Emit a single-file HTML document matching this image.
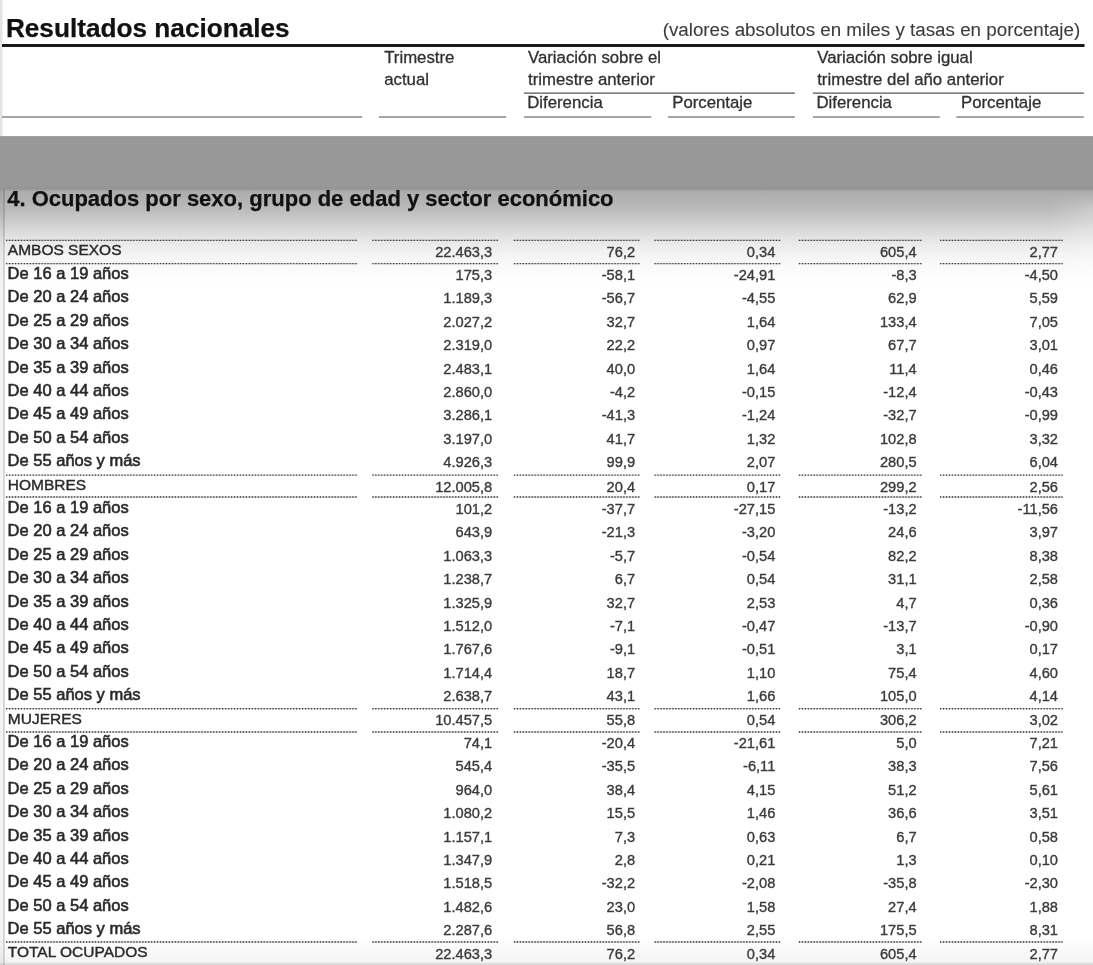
<!DOCTYPE html>
<html><head><meta charset="utf-8"><title>Resultados nacionales</title>
<style>
html,body{margin:0;padding:0;background:#fff;}
body{width:1093px;height:965px;position:relative;overflow:hidden;font-family:"Liberation Sans",sans-serif;}
.t{position:absolute;white-space:nowrap;-webkit-text-stroke:0.6px currentColor;}
.h{-webkit-text-stroke:0.3px currentColor;}
.c{-webkit-text-stroke:0.4px currentColor;}
.n{-webkit-text-stroke:0.35px currentColor;}
.v{-webkit-text-stroke:0.1px currentColor;}
.b{-webkit-text-stroke:0.25px currentColor;}
#lines{position:absolute;left:0;top:0;}
#txt{position:absolute;left:0;top:0;width:1093px;height:965px;will-change:transform;filter:blur(0.35px);}
.d{position:absolute;height:1px;background:repeating-linear-gradient(90deg,#666 0,#666 1px,#ccc 1px,#ccc 2px);}
#band{position:absolute;left:0;top:136px;width:1093px;height:150px;background:linear-gradient(180deg,#a6a6a6 0.0px,#989898 1.2px,#989898 49.5px,#949494 52.0px,#979797 53.3px,#acacac 55.2px,#b3b3b3 65.0px,#bcbcbc 74.0px,#cacaca 84.0px,#d9d9d9 94.0px,#e6e6e6 104.0px,#f0f0f0 114.0px,#f7f7f7 124.0px,#fbfbfb 134.0px,#ffffff 148.0px);}
#bfade{position:absolute;left:0;top:938px;width:1093px;height:27px;background:linear-gradient(180deg,rgba(0,0,0,0) 0,rgba(0,0,0,.02) 10px,rgba(0,0,0,.045) 24px,rgba(0,0,0,.045) 27px);}
#rfade{position:absolute;left:1048px;top:191px;width:45px;height:90px;background:linear-gradient(90deg,rgba(255,255,255,0),rgba(255,255,255,.22));-webkit-mask-image:linear-gradient(180deg,transparent 0,#000 18px);mask-image:linear-gradient(180deg,transparent 0,#000 18px);}
</style></head><body>
<div id="band"></div>
<div id="rfade"></div>
<div id="bfade"></div>
<svg id="lines" width="1093" height="965" viewBox="0 0 1093 965"><rect x="0" y="0" width="2.5" height="136" fill="#e3e3e3"/><rect x="0" y="190" width="2.4" height="776" fill="#000" fill-opacity="0.045"/><rect x="2.9" y="190" width="1.9" height="776" fill="#000" fill-opacity="0.17"/><rect x="0" y="962.4" width="1093" height="1.2" fill="#000" fill-opacity="0.05"/><rect x="0" y="963.6" width="1093" height="1.4" fill="#000" fill-opacity="0.11"/><rect x="2.00" y="44.00" width="1082.50" height="3" fill="#1a1a1a"/>
<rect x="524.00" y="92.60" width="270.80" height="1" fill="#2a2a2a"/>
<rect x="812.90" y="92.60" width="270.90" height="1" fill="#2a2a2a"/>
<rect x="2.00" y="116.00" width="360.20" height="2" fill="#a6a6a6"/>
<rect x="378.90" y="116.00" width="127.30" height="2" fill="#a6a6a6"/>
<rect x="524.10" y="116.00" width="127.10" height="2" fill="#a6a6a6"/>
<rect x="667.90" y="116.00" width="126.90" height="2" fill="#a6a6a6"/>
<rect x="812.90" y="116.00" width="126.90" height="2" fill="#a6a6a6"/>
<rect x="956.40" y="116.00" width="127.40" height="2" fill="#a6a6a6"/><g stroke="#000" stroke-opacity="0.2" stroke-width="1.3" fill="none"><line x1="6.00" y1="240.30" x2="357.60" y2="240.30"/>
<line x1="6.00" y1="263.55" x2="357.60" y2="263.55"/>
<line x1="372.30" y1="240.30" x2="498.30" y2="240.30"/>
<line x1="372.30" y1="263.55" x2="498.30" y2="263.55"/>
<line x1="513.80" y1="240.30" x2="639.70" y2="240.30"/>
<line x1="513.80" y1="263.55" x2="639.70" y2="263.55"/>
<line x1="654.50" y1="240.30" x2="780.60" y2="240.30"/>
<line x1="654.50" y1="263.55" x2="780.60" y2="263.55"/>
<line x1="798.80" y1="240.30" x2="921.80" y2="240.30"/>
<line x1="798.80" y1="263.55" x2="921.80" y2="263.55"/>
<line x1="940.00" y1="240.30" x2="1062.60" y2="240.30"/>
<line x1="940.00" y1="263.55" x2="1062.60" y2="263.55"/>
<line x1="6.00" y1="475.05" x2="357.60" y2="475.05"/>
<line x1="6.00" y1="497.00" x2="357.60" y2="497.00"/>
<line x1="372.30" y1="475.05" x2="498.30" y2="475.05"/>
<line x1="372.30" y1="497.00" x2="498.30" y2="497.00"/>
<line x1="513.80" y1="475.05" x2="639.70" y2="475.05"/>
<line x1="513.80" y1="497.00" x2="639.70" y2="497.00"/>
<line x1="654.50" y1="475.05" x2="780.60" y2="475.05"/>
<line x1="654.50" y1="497.00" x2="780.60" y2="497.00"/>
<line x1="798.80" y1="475.05" x2="921.80" y2="475.05"/>
<line x1="798.80" y1="497.00" x2="921.80" y2="497.00"/>
<line x1="940.00" y1="475.05" x2="1062.60" y2="475.05"/>
<line x1="940.00" y1="497.00" x2="1062.60" y2="497.00"/>
<line x1="6.00" y1="708.70" x2="357.60" y2="708.70"/>
<line x1="6.00" y1="732.00" x2="357.60" y2="732.00"/>
<line x1="372.30" y1="708.70" x2="498.30" y2="708.70"/>
<line x1="372.30" y1="732.00" x2="498.30" y2="732.00"/>
<line x1="513.80" y1="708.70" x2="639.70" y2="708.70"/>
<line x1="513.80" y1="732.00" x2="639.70" y2="732.00"/>
<line x1="654.50" y1="708.70" x2="780.60" y2="708.70"/>
<line x1="654.50" y1="732.00" x2="780.60" y2="732.00"/>
<line x1="798.80" y1="708.70" x2="921.80" y2="708.70"/>
<line x1="798.80" y1="732.00" x2="921.80" y2="732.00"/>
<line x1="940.00" y1="708.70" x2="1062.60" y2="708.70"/>
<line x1="940.00" y1="732.00" x2="1062.60" y2="732.00"/>
<line x1="6.00" y1="942.00" x2="357.60" y2="942.00"/>
<line x1="372.30" y1="942.00" x2="498.30" y2="942.00"/>
<line x1="513.80" y1="942.00" x2="639.70" y2="942.00"/>
<line x1="654.50" y1="942.00" x2="780.60" y2="942.00"/>
<line x1="798.80" y1="942.00" x2="921.80" y2="942.00"/>
<line x1="940.00" y1="942.00" x2="1062.60" y2="942.00"/></g><g stroke="#3c3c3c" stroke-width="1.35" stroke-dasharray="1.25 1.71" fill="none"><line x1="6.00" y1="240.30" x2="357.60" y2="240.30"/>
<line x1="6.00" y1="263.55" x2="357.60" y2="263.55"/>
<line x1="372.30" y1="240.30" x2="498.30" y2="240.30"/>
<line x1="372.30" y1="263.55" x2="498.30" y2="263.55"/>
<line x1="513.80" y1="240.30" x2="639.70" y2="240.30"/>
<line x1="513.80" y1="263.55" x2="639.70" y2="263.55"/>
<line x1="654.50" y1="240.30" x2="780.60" y2="240.30"/>
<line x1="654.50" y1="263.55" x2="780.60" y2="263.55"/>
<line x1="798.80" y1="240.30" x2="921.80" y2="240.30"/>
<line x1="798.80" y1="263.55" x2="921.80" y2="263.55"/>
<line x1="940.00" y1="240.30" x2="1062.60" y2="240.30"/>
<line x1="940.00" y1="263.55" x2="1062.60" y2="263.55"/>
<line x1="6.00" y1="475.05" x2="357.60" y2="475.05"/>
<line x1="6.00" y1="497.00" x2="357.60" y2="497.00"/>
<line x1="372.30" y1="475.05" x2="498.30" y2="475.05"/>
<line x1="372.30" y1="497.00" x2="498.30" y2="497.00"/>
<line x1="513.80" y1="475.05" x2="639.70" y2="475.05"/>
<line x1="513.80" y1="497.00" x2="639.70" y2="497.00"/>
<line x1="654.50" y1="475.05" x2="780.60" y2="475.05"/>
<line x1="654.50" y1="497.00" x2="780.60" y2="497.00"/>
<line x1="798.80" y1="475.05" x2="921.80" y2="475.05"/>
<line x1="798.80" y1="497.00" x2="921.80" y2="497.00"/>
<line x1="940.00" y1="475.05" x2="1062.60" y2="475.05"/>
<line x1="940.00" y1="497.00" x2="1062.60" y2="497.00"/>
<line x1="6.00" y1="708.70" x2="357.60" y2="708.70"/>
<line x1="6.00" y1="732.00" x2="357.60" y2="732.00"/>
<line x1="372.30" y1="708.70" x2="498.30" y2="708.70"/>
<line x1="372.30" y1="732.00" x2="498.30" y2="732.00"/>
<line x1="513.80" y1="708.70" x2="639.70" y2="708.70"/>
<line x1="513.80" y1="732.00" x2="639.70" y2="732.00"/>
<line x1="654.50" y1="708.70" x2="780.60" y2="708.70"/>
<line x1="654.50" y1="732.00" x2="780.60" y2="732.00"/>
<line x1="798.80" y1="708.70" x2="921.80" y2="708.70"/>
<line x1="798.80" y1="732.00" x2="921.80" y2="732.00"/>
<line x1="940.00" y1="708.70" x2="1062.60" y2="708.70"/>
<line x1="940.00" y1="732.00" x2="1062.60" y2="732.00"/>
<line x1="6.00" y1="942.00" x2="357.60" y2="942.00"/>
<line x1="372.30" y1="942.00" x2="498.30" y2="942.00"/>
<line x1="513.80" y1="942.00" x2="639.70" y2="942.00"/>
<line x1="654.50" y1="942.00" x2="780.60" y2="942.00"/>
<line x1="798.80" y1="942.00" x2="921.80" y2="942.00"/>
<line x1="940.00" y1="942.00" x2="1062.60" y2="942.00"/></g></svg>
<div id="txt">
<div class="t b" style="top:18px;font-size:26.2px;line-height:20px;left:5.90px;color:#111;font-weight:bold;">Resultados nacionales</div>
<div class="t v" style="top:20px;font-size:18.8px;line-height:20px;right:12.80px;color:#3c3c3c;">(valores absolutos en miles y tasas en porcentaje)</div>
<div class="t h" style="top:48px;font-size:16.8px;line-height:20px;left:384.20px;color:#303030;">Trimestre</div>
<div class="t h" style="top:70px;font-size:16.8px;line-height:20px;left:384.20px;color:#303030;">actual</div>
<div class="t h" style="top:48px;font-size:16.8px;line-height:20px;left:528.00px;color:#303030;">Variación sobre el</div>
<div class="t h" style="top:70px;font-size:16.8px;line-height:20px;left:528.00px;color:#303030;">trimestre anterior</div>
<div class="t h" style="top:48px;font-size:16.8px;line-height:20px;left:817.20px;color:#303030;">Variación sobre igual</div>
<div class="t h" style="top:70px;font-size:16.8px;line-height:20px;left:817.20px;color:#303030;">trimestre del año anterior</div>
<div class="t h" style="top:93px;font-size:16.8px;line-height:20px;left:527.20px;color:#303030;">Diferencia</div>
<div class="t h" style="top:93px;font-size:16.8px;line-height:20px;left:672.20px;color:#303030;">Porcentaje</div>
<div class="t h" style="top:93px;font-size:16.8px;line-height:20px;left:816.40px;color:#303030;">Diferencia</div>
<div class="t h" style="top:93px;font-size:16.8px;line-height:20px;left:961.00px;color:#303030;">Porcentaje</div>
<div class="t b" style="top:189px;font-size:22.0px;line-height:20px;left:7.20px;color:#111;font-weight:bold;">4. Ocupados por sexo, grupo de edad y sector económico</div>
<div class="t c" style="top:240px;font-size:15.5px;line-height:20px;left:7.80px;color:#2a2a2a;">AMBOS SEXOS</div>
<div class="t n" style="top:242px;font-size:14.65px;line-height:20px;right:600.80px;color:#3a3a3a;">22.463,3</div>
<div class="t n" style="top:242px;font-size:14.65px;line-height:20px;right:457.90px;color:#3a3a3a;">76,2</div>
<div class="t n" style="top:242px;font-size:14.65px;line-height:20px;right:317.70px;color:#3a3a3a;">0,34</div>
<div class="t n" style="top:242px;font-size:14.65px;line-height:20px;right:176.40px;color:#3a3a3a;">605,4</div>
<div class="t n" style="top:242px;font-size:14.65px;line-height:20px;right:35.00px;color:#3a3a3a;">2,77</div>
<div class="t " style="top:263px;font-size:16.5px;line-height:20px;left:7.60px;color:#2a2a2a;">De 16 a 19 años</div>
<div class="t n" style="top:265px;font-size:14.65px;line-height:20px;right:600.80px;color:#3a3a3a;">175,3</div>
<div class="t n" style="top:265px;font-size:14.65px;line-height:20px;right:457.90px;color:#3a3a3a;">-58,1</div>
<div class="t n" style="top:265px;font-size:14.65px;line-height:20px;right:317.70px;color:#3a3a3a;">-24,91</div>
<div class="t n" style="top:265px;font-size:14.65px;line-height:20px;right:176.40px;color:#3a3a3a;">-8,3</div>
<div class="t n" style="top:265px;font-size:14.65px;line-height:20px;right:35.00px;color:#3a3a3a;">-4,50</div>
<div class="t " style="top:286px;font-size:16.5px;line-height:20px;left:7.60px;color:#2a2a2a;">De 20 a 24 años</div>
<div class="t n" style="top:288px;font-size:14.65px;line-height:20px;right:600.80px;color:#3a3a3a;">1.189,3</div>
<div class="t n" style="top:288px;font-size:14.65px;line-height:20px;right:457.90px;color:#3a3a3a;">-56,7</div>
<div class="t n" style="top:288px;font-size:14.65px;line-height:20px;right:317.70px;color:#3a3a3a;">-4,55</div>
<div class="t n" style="top:288px;font-size:14.65px;line-height:20px;right:176.40px;color:#3a3a3a;">62,9</div>
<div class="t n" style="top:288px;font-size:14.65px;line-height:20px;right:35.00px;color:#3a3a3a;">5,59</div>
<div class="t " style="top:310px;font-size:16.5px;line-height:20px;left:7.60px;color:#2a2a2a;">De 25 a 29 años</div>
<div class="t n" style="top:312px;font-size:14.65px;line-height:20px;right:600.80px;color:#3a3a3a;">2.027,2</div>
<div class="t n" style="top:312px;font-size:14.65px;line-height:20px;right:457.90px;color:#3a3a3a;">32,7</div>
<div class="t n" style="top:312px;font-size:14.65px;line-height:20px;right:317.70px;color:#3a3a3a;">1,64</div>
<div class="t n" style="top:312px;font-size:14.65px;line-height:20px;right:176.40px;color:#3a3a3a;">133,4</div>
<div class="t n" style="top:312px;font-size:14.65px;line-height:20px;right:35.00px;color:#3a3a3a;">7,05</div>
<div class="t " style="top:333px;font-size:16.5px;line-height:20px;left:7.60px;color:#2a2a2a;">De 30 a 34 años</div>
<div class="t n" style="top:335px;font-size:14.65px;line-height:20px;right:600.80px;color:#3a3a3a;">2.319,0</div>
<div class="t n" style="top:335px;font-size:14.65px;line-height:20px;right:457.90px;color:#3a3a3a;">22,2</div>
<div class="t n" style="top:335px;font-size:14.65px;line-height:20px;right:317.70px;color:#3a3a3a;">0,97</div>
<div class="t n" style="top:335px;font-size:14.65px;line-height:20px;right:176.40px;color:#3a3a3a;">67,7</div>
<div class="t n" style="top:335px;font-size:14.65px;line-height:20px;right:35.00px;color:#3a3a3a;">3,01</div>
<div class="t " style="top:357px;font-size:16.5px;line-height:20px;left:7.60px;color:#2a2a2a;">De 35 a 39 años</div>
<div class="t n" style="top:359px;font-size:14.65px;line-height:20px;right:600.80px;color:#3a3a3a;">2.483,1</div>
<div class="t n" style="top:359px;font-size:14.65px;line-height:20px;right:457.90px;color:#3a3a3a;">40,0</div>
<div class="t n" style="top:359px;font-size:14.65px;line-height:20px;right:317.70px;color:#3a3a3a;">1,64</div>
<div class="t n" style="top:359px;font-size:14.65px;line-height:20px;right:176.40px;color:#3a3a3a;">11,4</div>
<div class="t n" style="top:359px;font-size:14.65px;line-height:20px;right:35.00px;color:#3a3a3a;">0,46</div>
<div class="t " style="top:380px;font-size:16.5px;line-height:20px;left:7.60px;color:#2a2a2a;">De 40 a 44 años</div>
<div class="t n" style="top:382px;font-size:14.65px;line-height:20px;right:600.80px;color:#3a3a3a;">2.860,0</div>
<div class="t n" style="top:382px;font-size:14.65px;line-height:20px;right:457.90px;color:#3a3a3a;">-4,2</div>
<div class="t n" style="top:382px;font-size:14.65px;line-height:20px;right:317.70px;color:#3a3a3a;">-0,15</div>
<div class="t n" style="top:382px;font-size:14.65px;line-height:20px;right:176.40px;color:#3a3a3a;">-12,4</div>
<div class="t n" style="top:382px;font-size:14.65px;line-height:20px;right:35.00px;color:#3a3a3a;">-0,43</div>
<div class="t " style="top:403px;font-size:16.5px;line-height:20px;left:7.60px;color:#2a2a2a;">De 45 a 49 años</div>
<div class="t n" style="top:405px;font-size:14.65px;line-height:20px;right:600.80px;color:#3a3a3a;">3.286,1</div>
<div class="t n" style="top:405px;font-size:14.65px;line-height:20px;right:457.90px;color:#3a3a3a;">-41,3</div>
<div class="t n" style="top:405px;font-size:14.65px;line-height:20px;right:317.70px;color:#3a3a3a;">-1,24</div>
<div class="t n" style="top:405px;font-size:14.65px;line-height:20px;right:176.40px;color:#3a3a3a;">-32,7</div>
<div class="t n" style="top:405px;font-size:14.65px;line-height:20px;right:35.00px;color:#3a3a3a;">-0,99</div>
<div class="t " style="top:427px;font-size:16.5px;line-height:20px;left:7.60px;color:#2a2a2a;">De 50 a 54 años</div>
<div class="t n" style="top:429px;font-size:14.65px;line-height:20px;right:600.80px;color:#3a3a3a;">3.197,0</div>
<div class="t n" style="top:429px;font-size:14.65px;line-height:20px;right:457.90px;color:#3a3a3a;">41,7</div>
<div class="t n" style="top:429px;font-size:14.65px;line-height:20px;right:317.70px;color:#3a3a3a;">1,32</div>
<div class="t n" style="top:429px;font-size:14.65px;line-height:20px;right:176.40px;color:#3a3a3a;">102,8</div>
<div class="t n" style="top:429px;font-size:14.65px;line-height:20px;right:35.00px;color:#3a3a3a;">3,32</div>
<div class="t " style="top:450px;font-size:16.5px;line-height:20px;left:7.60px;color:#2a2a2a;">De 55 años y más</div>
<div class="t n" style="top:452px;font-size:14.65px;line-height:20px;right:600.80px;color:#3a3a3a;">4.926,3</div>
<div class="t n" style="top:452px;font-size:14.65px;line-height:20px;right:457.90px;color:#3a3a3a;">99,9</div>
<div class="t n" style="top:452px;font-size:14.65px;line-height:20px;right:317.70px;color:#3a3a3a;">2,07</div>
<div class="t n" style="top:452px;font-size:14.65px;line-height:20px;right:176.40px;color:#3a3a3a;">280,5</div>
<div class="t n" style="top:452px;font-size:14.65px;line-height:20px;right:35.00px;color:#3a3a3a;">6,04</div>
<div class="t c" style="top:475px;font-size:15.5px;line-height:20px;left:7.80px;color:#2a2a2a;">HOMBRES</div>
<div class="t n" style="top:477px;font-size:14.65px;line-height:20px;right:600.80px;color:#3a3a3a;">12.005,8</div>
<div class="t n" style="top:477px;font-size:14.65px;line-height:20px;right:457.90px;color:#3a3a3a;">20,4</div>
<div class="t n" style="top:477px;font-size:14.65px;line-height:20px;right:317.70px;color:#3a3a3a;">0,17</div>
<div class="t n" style="top:477px;font-size:14.65px;line-height:20px;right:176.40px;color:#3a3a3a;">299,2</div>
<div class="t n" style="top:477px;font-size:14.65px;line-height:20px;right:35.00px;color:#3a3a3a;">2,56</div>
<div class="t " style="top:497px;font-size:16.5px;line-height:20px;left:7.60px;color:#2a2a2a;">De 16 a 19 años</div>
<div class="t n" style="top:499px;font-size:14.65px;line-height:20px;right:600.80px;color:#3a3a3a;">101,2</div>
<div class="t n" style="top:499px;font-size:14.65px;line-height:20px;right:457.90px;color:#3a3a3a;">-37,7</div>
<div class="t n" style="top:499px;font-size:14.65px;line-height:20px;right:317.70px;color:#3a3a3a;">-27,15</div>
<div class="t n" style="top:499px;font-size:14.65px;line-height:20px;right:176.40px;color:#3a3a3a;">-13,2</div>
<div class="t n" style="top:499px;font-size:14.65px;line-height:20px;right:35.00px;color:#3a3a3a;">-11,56</div>
<div class="t " style="top:520px;font-size:16.5px;line-height:20px;left:7.60px;color:#2a2a2a;">De 20 a 24 años</div>
<div class="t n" style="top:522px;font-size:14.65px;line-height:20px;right:600.80px;color:#3a3a3a;">643,9</div>
<div class="t n" style="top:522px;font-size:14.65px;line-height:20px;right:457.90px;color:#3a3a3a;">-21,3</div>
<div class="t n" style="top:522px;font-size:14.65px;line-height:20px;right:317.70px;color:#3a3a3a;">-3,20</div>
<div class="t n" style="top:522px;font-size:14.65px;line-height:20px;right:176.40px;color:#3a3a3a;">24,6</div>
<div class="t n" style="top:522px;font-size:14.65px;line-height:20px;right:35.00px;color:#3a3a3a;">3,97</div>
<div class="t " style="top:544px;font-size:16.5px;line-height:20px;left:7.60px;color:#2a2a2a;">De 25 a 29 años</div>
<div class="t n" style="top:546px;font-size:14.65px;line-height:20px;right:600.80px;color:#3a3a3a;">1.063,3</div>
<div class="t n" style="top:546px;font-size:14.65px;line-height:20px;right:457.90px;color:#3a3a3a;">-5,7</div>
<div class="t n" style="top:546px;font-size:14.65px;line-height:20px;right:317.70px;color:#3a3a3a;">-0,54</div>
<div class="t n" style="top:546px;font-size:14.65px;line-height:20px;right:176.40px;color:#3a3a3a;">82,2</div>
<div class="t n" style="top:546px;font-size:14.65px;line-height:20px;right:35.00px;color:#3a3a3a;">8,38</div>
<div class="t " style="top:567px;font-size:16.5px;line-height:20px;left:7.60px;color:#2a2a2a;">De 30 a 34 años</div>
<div class="t n" style="top:569px;font-size:14.65px;line-height:20px;right:600.80px;color:#3a3a3a;">1.238,7</div>
<div class="t n" style="top:569px;font-size:14.65px;line-height:20px;right:457.90px;color:#3a3a3a;">6,7</div>
<div class="t n" style="top:569px;font-size:14.65px;line-height:20px;right:317.70px;color:#3a3a3a;">0,54</div>
<div class="t n" style="top:569px;font-size:14.65px;line-height:20px;right:176.40px;color:#3a3a3a;">31,1</div>
<div class="t n" style="top:569px;font-size:14.65px;line-height:20px;right:35.00px;color:#3a3a3a;">2,58</div>
<div class="t " style="top:591px;font-size:16.5px;line-height:20px;left:7.60px;color:#2a2a2a;">De 35 a 39 años</div>
<div class="t n" style="top:593px;font-size:14.65px;line-height:20px;right:600.80px;color:#3a3a3a;">1.325,9</div>
<div class="t n" style="top:593px;font-size:14.65px;line-height:20px;right:457.90px;color:#3a3a3a;">32,7</div>
<div class="t n" style="top:593px;font-size:14.65px;line-height:20px;right:317.70px;color:#3a3a3a;">2,53</div>
<div class="t n" style="top:593px;font-size:14.65px;line-height:20px;right:176.40px;color:#3a3a3a;">4,7</div>
<div class="t n" style="top:593px;font-size:14.65px;line-height:20px;right:35.00px;color:#3a3a3a;">0,36</div>
<div class="t " style="top:614px;font-size:16.5px;line-height:20px;left:7.60px;color:#2a2a2a;">De 40 a 44 años</div>
<div class="t n" style="top:616px;font-size:14.65px;line-height:20px;right:600.80px;color:#3a3a3a;">1.512,0</div>
<div class="t n" style="top:616px;font-size:14.65px;line-height:20px;right:457.90px;color:#3a3a3a;">-7,1</div>
<div class="t n" style="top:616px;font-size:14.65px;line-height:20px;right:317.70px;color:#3a3a3a;">-0,47</div>
<div class="t n" style="top:616px;font-size:14.65px;line-height:20px;right:176.40px;color:#3a3a3a;">-13,7</div>
<div class="t n" style="top:616px;font-size:14.65px;line-height:20px;right:35.00px;color:#3a3a3a;">-0,90</div>
<div class="t " style="top:637px;font-size:16.5px;line-height:20px;left:7.60px;color:#2a2a2a;">De 45 a 49 años</div>
<div class="t n" style="top:639px;font-size:14.65px;line-height:20px;right:600.80px;color:#3a3a3a;">1.767,6</div>
<div class="t n" style="top:639px;font-size:14.65px;line-height:20px;right:457.90px;color:#3a3a3a;">-9,1</div>
<div class="t n" style="top:639px;font-size:14.65px;line-height:20px;right:317.70px;color:#3a3a3a;">-0,51</div>
<div class="t n" style="top:639px;font-size:14.65px;line-height:20px;right:176.40px;color:#3a3a3a;">3,1</div>
<div class="t n" style="top:639px;font-size:14.65px;line-height:20px;right:35.00px;color:#3a3a3a;">0,17</div>
<div class="t " style="top:661px;font-size:16.5px;line-height:20px;left:7.60px;color:#2a2a2a;">De 50 a 54 años</div>
<div class="t n" style="top:663px;font-size:14.65px;line-height:20px;right:600.80px;color:#3a3a3a;">1.714,4</div>
<div class="t n" style="top:663px;font-size:14.65px;line-height:20px;right:457.90px;color:#3a3a3a;">18,7</div>
<div class="t n" style="top:663px;font-size:14.65px;line-height:20px;right:317.70px;color:#3a3a3a;">1,10</div>
<div class="t n" style="top:663px;font-size:14.65px;line-height:20px;right:176.40px;color:#3a3a3a;">75,4</div>
<div class="t n" style="top:663px;font-size:14.65px;line-height:20px;right:35.00px;color:#3a3a3a;">4,60</div>
<div class="t " style="top:684px;font-size:16.5px;line-height:20px;left:7.60px;color:#2a2a2a;">De 55 años y más</div>
<div class="t n" style="top:686px;font-size:14.65px;line-height:20px;right:600.80px;color:#3a3a3a;">2.638,7</div>
<div class="t n" style="top:686px;font-size:14.65px;line-height:20px;right:457.90px;color:#3a3a3a;">43,1</div>
<div class="t n" style="top:686px;font-size:14.65px;line-height:20px;right:317.70px;color:#3a3a3a;">1,66</div>
<div class="t n" style="top:686px;font-size:14.65px;line-height:20px;right:176.40px;color:#3a3a3a;">105,0</div>
<div class="t n" style="top:686px;font-size:14.65px;line-height:20px;right:35.00px;color:#3a3a3a;">4,14</div>
<div class="t c" style="top:709px;font-size:15.5px;line-height:20px;left:7.80px;color:#2a2a2a;">MUJERES</div>
<div class="t n" style="top:710px;font-size:14.65px;line-height:20px;right:600.80px;color:#3a3a3a;">10.457,5</div>
<div class="t n" style="top:710px;font-size:14.65px;line-height:20px;right:457.90px;color:#3a3a3a;">55,8</div>
<div class="t n" style="top:710px;font-size:14.65px;line-height:20px;right:317.70px;color:#3a3a3a;">0,54</div>
<div class="t n" style="top:710px;font-size:14.65px;line-height:20px;right:176.40px;color:#3a3a3a;">306,2</div>
<div class="t n" style="top:710px;font-size:14.65px;line-height:20px;right:35.00px;color:#3a3a3a;">3,02</div>
<div class="t " style="top:731px;font-size:16.5px;line-height:20px;left:7.60px;color:#2a2a2a;">De 16 a 19 años</div>
<div class="t n" style="top:733px;font-size:14.65px;line-height:20px;right:600.80px;color:#3a3a3a;">74,1</div>
<div class="t n" style="top:733px;font-size:14.65px;line-height:20px;right:457.90px;color:#3a3a3a;">-20,4</div>
<div class="t n" style="top:733px;font-size:14.65px;line-height:20px;right:317.70px;color:#3a3a3a;">-21,61</div>
<div class="t n" style="top:733px;font-size:14.65px;line-height:20px;right:176.40px;color:#3a3a3a;">5,0</div>
<div class="t n" style="top:733px;font-size:14.65px;line-height:20px;right:35.00px;color:#3a3a3a;">7,21</div>
<div class="t " style="top:754px;font-size:16.5px;line-height:20px;left:7.60px;color:#2a2a2a;">De 20 a 24 años</div>
<div class="t n" style="top:756px;font-size:14.65px;line-height:20px;right:600.80px;color:#3a3a3a;">545,4</div>
<div class="t n" style="top:756px;font-size:14.65px;line-height:20px;right:457.90px;color:#3a3a3a;">-35,5</div>
<div class="t n" style="top:756px;font-size:14.65px;line-height:20px;right:317.70px;color:#3a3a3a;">-6,11</div>
<div class="t n" style="top:756px;font-size:14.65px;line-height:20px;right:176.40px;color:#3a3a3a;">38,3</div>
<div class="t n" style="top:756px;font-size:14.65px;line-height:20px;right:35.00px;color:#3a3a3a;">7,56</div>
<div class="t " style="top:778px;font-size:16.5px;line-height:20px;left:7.60px;color:#2a2a2a;">De 25 a 29 años</div>
<div class="t n" style="top:780px;font-size:14.65px;line-height:20px;right:600.80px;color:#3a3a3a;">964,0</div>
<div class="t n" style="top:780px;font-size:14.65px;line-height:20px;right:457.90px;color:#3a3a3a;">38,4</div>
<div class="t n" style="top:780px;font-size:14.65px;line-height:20px;right:317.70px;color:#3a3a3a;">4,15</div>
<div class="t n" style="top:780px;font-size:14.65px;line-height:20px;right:176.40px;color:#3a3a3a;">51,2</div>
<div class="t n" style="top:780px;font-size:14.65px;line-height:20px;right:35.00px;color:#3a3a3a;">5,61</div>
<div class="t " style="top:801px;font-size:16.5px;line-height:20px;left:7.60px;color:#2a2a2a;">De 30 a 34 años</div>
<div class="t n" style="top:803px;font-size:14.65px;line-height:20px;right:600.80px;color:#3a3a3a;">1.080,2</div>
<div class="t n" style="top:803px;font-size:14.65px;line-height:20px;right:457.90px;color:#3a3a3a;">15,5</div>
<div class="t n" style="top:803px;font-size:14.65px;line-height:20px;right:317.70px;color:#3a3a3a;">1,46</div>
<div class="t n" style="top:803px;font-size:14.65px;line-height:20px;right:176.40px;color:#3a3a3a;">36,6</div>
<div class="t n" style="top:803px;font-size:14.65px;line-height:20px;right:35.00px;color:#3a3a3a;">3,51</div>
<div class="t " style="top:825px;font-size:16.5px;line-height:20px;left:7.60px;color:#2a2a2a;">De 35 a 39 años</div>
<div class="t n" style="top:827px;font-size:14.65px;line-height:20px;right:600.80px;color:#3a3a3a;">1.157,1</div>
<div class="t n" style="top:827px;font-size:14.65px;line-height:20px;right:457.90px;color:#3a3a3a;">7,3</div>
<div class="t n" style="top:827px;font-size:14.65px;line-height:20px;right:317.70px;color:#3a3a3a;">0,63</div>
<div class="t n" style="top:827px;font-size:14.65px;line-height:20px;right:176.40px;color:#3a3a3a;">6,7</div>
<div class="t n" style="top:827px;font-size:14.65px;line-height:20px;right:35.00px;color:#3a3a3a;">0,58</div>
<div class="t " style="top:848px;font-size:16.5px;line-height:20px;left:7.60px;color:#2a2a2a;">De 40 a 44 años</div>
<div class="t n" style="top:850px;font-size:14.65px;line-height:20px;right:600.80px;color:#3a3a3a;">1.347,9</div>
<div class="t n" style="top:850px;font-size:14.65px;line-height:20px;right:457.90px;color:#3a3a3a;">2,8</div>
<div class="t n" style="top:850px;font-size:14.65px;line-height:20px;right:317.70px;color:#3a3a3a;">0,21</div>
<div class="t n" style="top:850px;font-size:14.65px;line-height:20px;right:176.40px;color:#3a3a3a;">1,3</div>
<div class="t n" style="top:850px;font-size:14.65px;line-height:20px;right:35.00px;color:#3a3a3a;">0,10</div>
<div class="t " style="top:871px;font-size:16.5px;line-height:20px;left:7.60px;color:#2a2a2a;">De 45 a 49 años</div>
<div class="t n" style="top:873px;font-size:14.65px;line-height:20px;right:600.80px;color:#3a3a3a;">1.518,5</div>
<div class="t n" style="top:873px;font-size:14.65px;line-height:20px;right:457.90px;color:#3a3a3a;">-32,2</div>
<div class="t n" style="top:873px;font-size:14.65px;line-height:20px;right:317.70px;color:#3a3a3a;">-2,08</div>
<div class="t n" style="top:873px;font-size:14.65px;line-height:20px;right:176.40px;color:#3a3a3a;">-35,8</div>
<div class="t n" style="top:873px;font-size:14.65px;line-height:20px;right:35.00px;color:#3a3a3a;">-2,30</div>
<div class="t " style="top:895px;font-size:16.5px;line-height:20px;left:7.60px;color:#2a2a2a;">De 50 a 54 años</div>
<div class="t n" style="top:897px;font-size:14.65px;line-height:20px;right:600.80px;color:#3a3a3a;">1.482,6</div>
<div class="t n" style="top:897px;font-size:14.65px;line-height:20px;right:457.90px;color:#3a3a3a;">23,0</div>
<div class="t n" style="top:897px;font-size:14.65px;line-height:20px;right:317.70px;color:#3a3a3a;">1,58</div>
<div class="t n" style="top:897px;font-size:14.65px;line-height:20px;right:176.40px;color:#3a3a3a;">27,4</div>
<div class="t n" style="top:897px;font-size:14.65px;line-height:20px;right:35.00px;color:#3a3a3a;">1,88</div>
<div class="t " style="top:918px;font-size:16.5px;line-height:20px;left:7.60px;color:#2a2a2a;">De 55 años y más</div>
<div class="t n" style="top:920px;font-size:14.65px;line-height:20px;right:600.80px;color:#3a3a3a;">2.287,6</div>
<div class="t n" style="top:920px;font-size:14.65px;line-height:20px;right:457.90px;color:#3a3a3a;">56,8</div>
<div class="t n" style="top:920px;font-size:14.65px;line-height:20px;right:317.70px;color:#3a3a3a;">2,55</div>
<div class="t n" style="top:920px;font-size:14.65px;line-height:20px;right:176.40px;color:#3a3a3a;">175,5</div>
<div class="t n" style="top:920px;font-size:14.65px;line-height:20px;right:35.00px;color:#3a3a3a;">8,31</div>
<div class="t c" style="top:942px;font-size:15.5px;line-height:20px;left:7.80px;color:#2a2a2a;">TOTAL OCUPADOS</div>
<div class="t n" style="top:944px;font-size:14.65px;line-height:20px;right:600.80px;color:#3a3a3a;">22.463,3</div>
<div class="t n" style="top:944px;font-size:14.65px;line-height:20px;right:457.90px;color:#3a3a3a;">76,2</div>
<div class="t n" style="top:944px;font-size:14.65px;line-height:20px;right:317.70px;color:#3a3a3a;">0,34</div>
<div class="t n" style="top:944px;font-size:14.65px;line-height:20px;right:176.40px;color:#3a3a3a;">605,4</div>
<div class="t n" style="top:944px;font-size:14.65px;line-height:20px;right:35.00px;color:#3a3a3a;">2,77</div>
</div>
</body></html>
